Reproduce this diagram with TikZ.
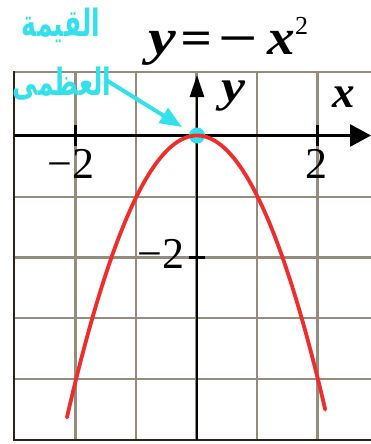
\documentclass[tikz,border=0pt]{standalone}
\usepackage{fontspec}
\setmainfont{Liberation Serif}
\newfontfamily\arabicfont[Script=Arabic]{DejaVu Sans}
\TeXXeTstate=1
\usetikzlibrary{arrows.meta,shapes.geometric}
\definecolor{gridc}{RGB}{150,140,126}
\definecolor{redc}{RGB}{240,45,45}
\definecolor{cyanc}{RGB}{50,225,235}
\definecolor{borderc}{RGB}{45,35,25}
\tikzset{
  gridline/.style={gridc, line width=2.3pt},
  borderline/.style={borderc, line width=2.6pt},
  axisline/.style={black, line width=2.8pt},
  ticklabel/.style={inner sep=0pt, font=\fontsize{44}{44}\selectfont},
  varlabel/.style={inner sep=0pt, font=\fontsize{48}{48}\selectfont\bfseries\itshape},
  axlabel/.style={inner sep=0pt, font=\fontsize{45}{45}\selectfont\bfseries\itshape},
  arlabel/.style={inner sep=0pt, text=cyanc, font=\fontsize{25}{25}\selectfont\arabicfont\bfseries},
  cyanarrow/.style={cyanc, line width=4pt, -{Triangle[length=22pt,width=17pt]}},
}
\begin{document}
\begin{tikzpicture}[x=1pt,y=-1pt]
\useasboundingbox (0,0) rectangle (371,444);
\fill[white] (0,0) rectangle (371,444);
\begin{scope}
\clip (0,0) rectangle (371,444);
\foreach \gx in {75.5,136,196.5,257,317.5}
  \draw[gridline] (\gx,72) -- (\gx,440);
\foreach \gy in {72,197,257.5,318,379}
  \draw[gridline] (14,\gy) -- (371,\gy);
\draw[borderline] (14,71) -- (14,441);
\draw[borderline] (13,440) -- (371,440);
\end{scope}
% axes
\coordinate (xl) at (14,135.5);
\coordinate (xr) at (371,135.5);
\coordinate (yb) at (197,440);
\coordinate (yt) at (197,75);
\draw[axisline,-{Triangle[length=21pt,width=22pt]}] (xl) -- (xr);
\draw[axisline,-{Triangle[length=22pt,width=14pt]}] (yb) -- (yt);
% ticks
\draw[axisline] (75.5,125) -- (75.5,146);
\draw[axisline] (317.5,125) -- (317.5,146);
\draw[axisline] (189,257.5) -- (205,257.5);
% vertex
\node[circle, fill=cyanc, minimum size=16pt, inner sep=0pt] (vx) at (197,135.5) {};
% parabola
\draw[redc, line width=3.8pt, line cap=round]
  plot[domain=-2.15:2.12, samples=80] ({197+60.5*\x},{135.5+61*\x*\x});
% labels
\node[ticklabel, anchor=base] (tm2) at (71,178) {−2};
\node[ticklabel, anchor=base] (t2) at (316,178) {2};
\node[ticklabel, anchor=base east] (ym2) at (185,268) {−2};
\node[axlabel, anchor=base] (ylab) at (233,101) {\scalebox{1.2}[1]{y}};
\node[axlabel, anchor=base] (xlab) at (344,107) {x};
\node[varlabel, anchor=base west] (title) at (148,55)
  {\scalebox{1.3}[1.05]{y}\hspace{5pt}\scalebox{1.15}[1]{=}\hspace{4pt}\scalebox{1.45}[1]{−}\hspace{9pt}\scalebox{1.15}[1.05]{x}\raisebox{20pt}{\fontsize{26}{26}\selectfont\mdseries\upshape 2}};
% arabic
\node[arlabel] (lab1) at (61,25) {\scalebox{1}[1.5]{\beginR القيمة\endR}};
\node[arlabel] (lab2) at (62,84) {\scalebox{1}[1.5]{\beginR العظمى\endR}};
\coordinate (as) at (106,80);
\coordinate (at) at (182,127);
\draw[cyanarrow] (as) -- (at);
\end{tikzpicture}
\end{document}
